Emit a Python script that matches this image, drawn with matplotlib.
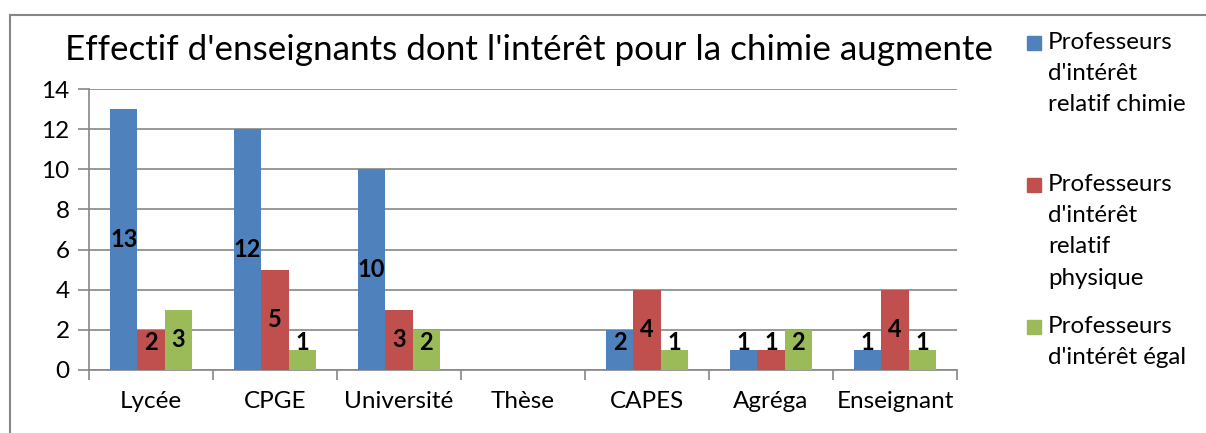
import numpy as np
import matplotlib.pyplot as plt
from matplotlib.patches import Rectangle
from matplotlib.lines import Line2D

plt.rcParams['font.family'] = ['Lato', 'DejaVu Sans']

categories = ['Lycée', 'CPGE', 'Université', 'Thèse', 'CAPES', 'Agréga', 'Enseignant']
chimie = [13, 12, 10, np.nan, 2, 1, 1]
physique = [2, 5, 3, np.nan, 4, 1, 4]
egal = [3, 1, 2, np.nan, 1, 2, 1]
series_labels = ["Professeurs\nd'intérêt\nrelatif chimie",
                 "Professeurs\nd'intérêt\nrelatif\nphysique",
                 "Professeurs\nd'intérêt égal"]
colors = ['#4F81BD', '#C0504D', '#9BBB59']
title = "Effectif d'enseignants dont l'intérêt pour la chimie augmente"

fig = plt.figure(figsize=(12.06, 4.33), dpi=100)
ax = fig.add_axes([89 / 1206, 1 - 370 / 433, (957 - 89) / 1206, (370 - 89) / 433])

x = np.arange(len(categories))
w = 0.22
for i, (vals, c) in enumerate(zip([chimie, physique, egal], colors)):
    pos = x + (i - 1) * w
    ax.bar(pos, vals, width=w, color=c, zorder=3)
    for px, v in zip(pos, vals):
        if np.isnan(v):
            continue
        ax.text(px, max(v / 2, 1.35), f'{int(v)}', ha='center', va='center',
                fontsize=17, fontweight='bold', zorder=4)

ax.set_xlim(-0.5, len(categories) - 0.5)
ax.set_ylim(0, 14)
ax.set_yticks(range(0, 15, 2))
ax.yaxis.grid(True, color='#868686', linewidth=1.2, zorder=0)
ax.set_xticks(x)
ax.set_xticklabels(categories)
ax.set_xticks(np.arange(-0.5, len(categories), 1), minor=True)
ax.tick_params(axis='x', which='major', length=0, pad=15, labelsize=17.5)
ax.tick_params(axis='x', which='minor', length=7, color='#868686', width=1.2)
ax.tick_params(axis='y', length=8, color='#868686', width=1.2, pad=6, labelsize=17.5)
for s in ['top', 'right']:
    ax.spines[s].set_visible(False)
for s in ['left', 'bottom']:
    ax.spines[s].set_color('#868686')
    ax.spines[s].set_linewidth(1.2)

fig.text(0.5 * (68 + 990) / 1206, 1 - 50 / 433, title, ha='center', va='center', fontsize=25.2)

# legend drawn by hand
legend_y = [43, 185, 327]
for lab, c, ly in zip(series_labels, colors, legend_y):
    fig.patches.append(Rectangle((1027 / 1206, 1 - (ly + 7) / 433), 14 / 1206, 14 / 433,
                                 transform=fig.transFigure, color=c))
    fig.text(1048 / 1206, 1 - (ly - 11) / 433, lab, ha='left', va='top',
             fontsize=17.4, linespacing=1.6)

# outer chart frame (partially cropped)
fig.add_artist(Line2D([10 / 1206, 1], [1 - 15 / 433, 1 - 15 / 433], color='#868686', lw=1.5))
fig.add_artist(Line2D([10 / 1206, 10 / 1206], [0, 1 - 15 / 433], color='#868686', lw=1.5))

fig.savefig('out.png', dpi=100)
